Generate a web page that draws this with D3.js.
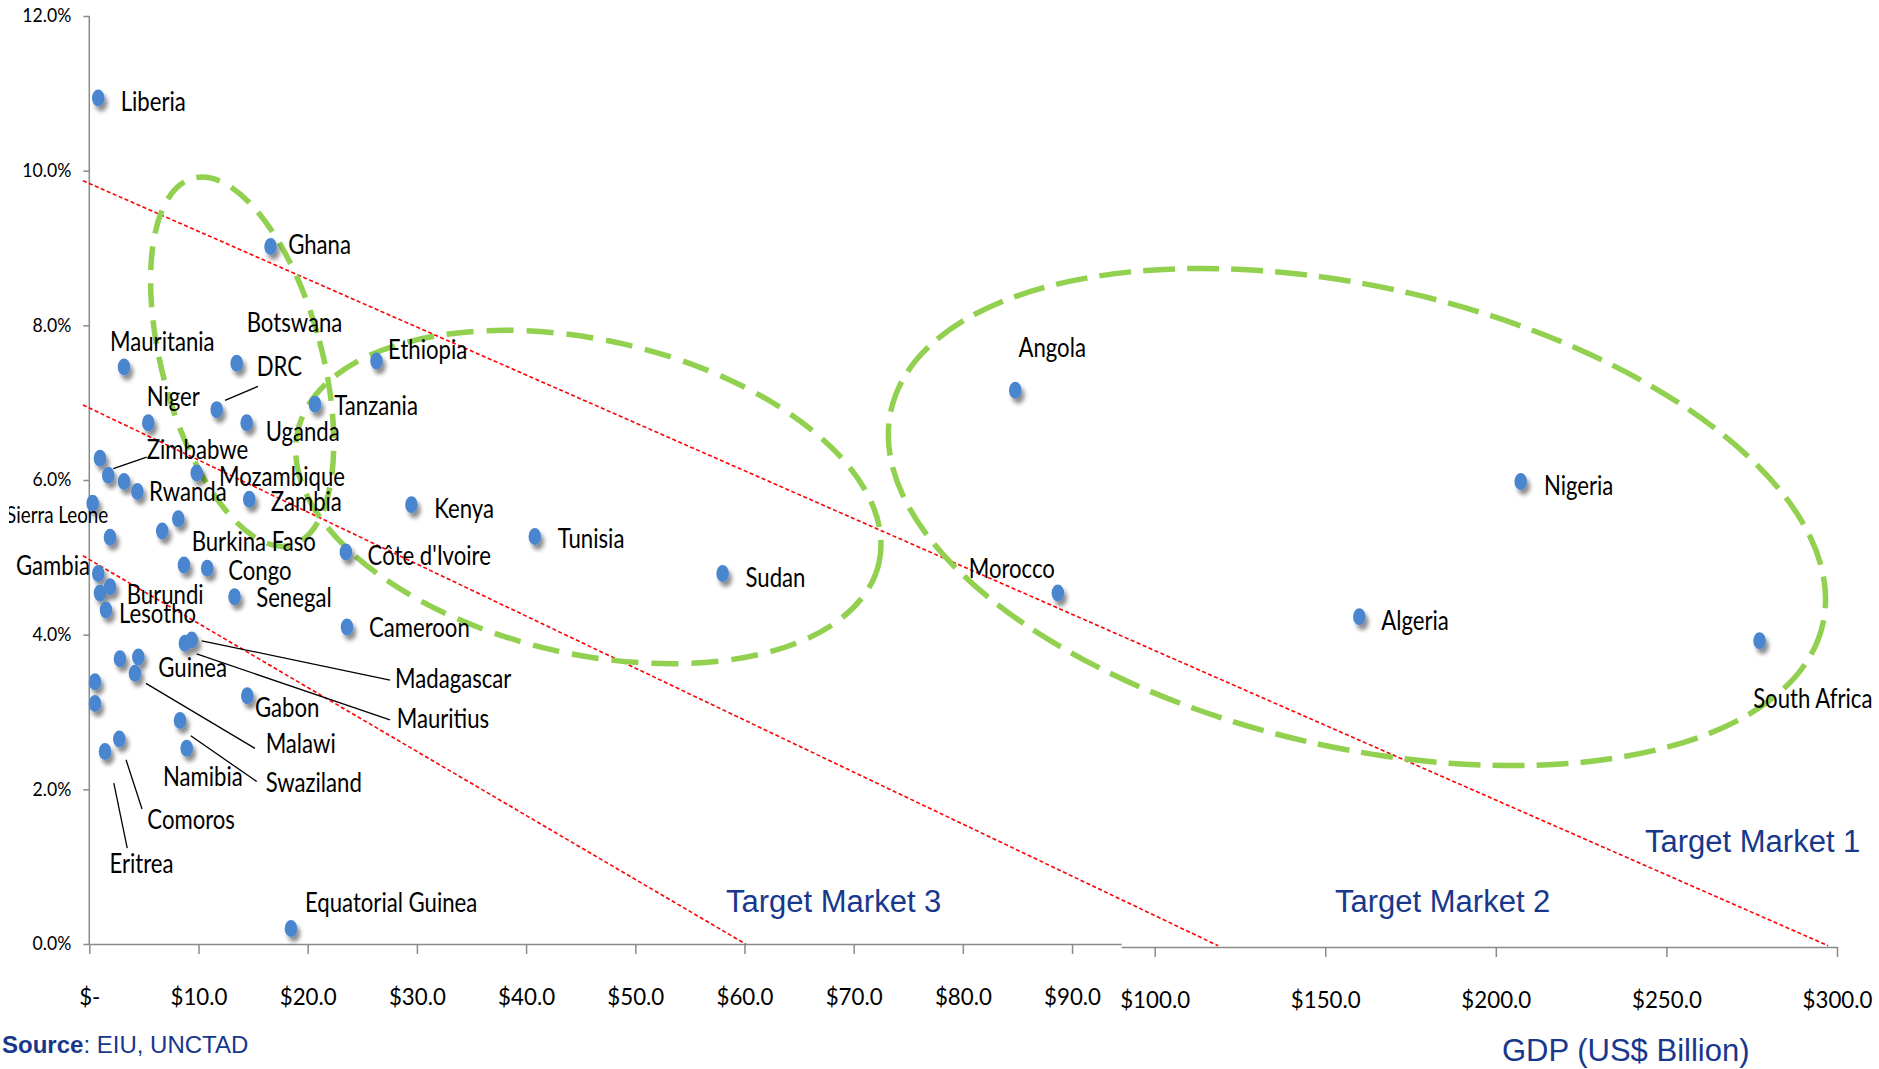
<!DOCTYPE html>
<html>
<head>
<meta charset="utf-8">
<script src="https://cdn.jsdelivr.net/npm/d3@7/dist/d3.min.js"></script>
<style>
  html, body { margin: 0; padding: 0; background: #ffffff; }
  svg { display: block; }
</style>
</head>
<body>
<svg id="chart" width="1879" height="1069"></svg>
<script>
// ---------------- DATA ----------------
const countries = ["Liberia","Ghana","Mauritania","Botswana","Ethiopia","DRC","Niger","Uganda","Tanzania","",
  "Zimbabwe","","Rwanda","Mozambique","Zambia","Kenya","Sierra Leone","","","",
  "Côte d'Ivoire","Tunisia","Sudan","Burkina Faso","Congo","Gambia","Burundi","","Lesotho","Senegal",
  "Cameroon","Madagascar","Mauritius","","Guinea","Malawi","","","Gabon","Swaziland",
  "Namibia","Comoros","Eritrea","Equatorial Guinea","Angola","Morocco","Nigeria","Algeria","South Africa"];
// GDP, US$ billion
const gdp = [0.82,16.6,3.18,13.5,26.3,11.67,5.40,14.41,20.67,0.98,
  1.74,3.18,4.40,9.84,14.65,29.5,0.31,8.15,6.68,1.90,
  23.5,40.8,58.0,8.67,10.8,0.82,1.90,0.98,1.53,13.3,
  23.6,9.38,8.76,2.81,4.49,4.18,0.52,0.52,14.47,8.31,
  8.92,2.75,1.44,18.47,84.8,88.7,207.3,160.0,277.3];
// real GDP growth, %
const growth = [10.94,9.02,7.46,7.51,7.54,6.91,6.74,6.74,6.98,6.28,
  6.06,5.98,5.85,6.09,5.75,5.68,5.70,5.50,5.34,5.26,
  5.07,5.27,4.79,4.90,4.86,4.79,4.62,4.54,4.32,4.49,
  4.10,3.93,3.89,3.69,3.71,3.50,3.39,3.11,3.21,2.89,
  2.53,2.65,2.49,0.20,7.16,4.54,6.02,4.27,3.96];

const yTicks = [0, 2, 4, 6, 8, 10, 12];
const xTicksLeft = [0, 10, 20, 30, 40, 50, 60, 70, 80, 90];
const xTicksRight = [100, 150, 200, 250, 300];

// target-market boundary lines, [gdp, growth] start and end
const boundaryStart = [[-0.58, 9.87], [-0.58, 6.97], [-0.58, 5.02]];
const boundaryEnd   = [[297.4, 0], [118.6, 0], [60.1, 0]];
const marketNames = ["Target Market 1", "Target Market 2", "Target Market 3"];

// highlighted groups, centre in [gdp, growth]
const groupCentres = [[14.0, 7.53], [45.7, 5.78], [159.3, 5.56]];

// ---------------- LAYOUT (not data) ----------------
const W = 1879, H = 1069;
const labelLayout = {
  "Liberia":[22.4,13], "Ghana":[17.6,7.3], "Mauritania":[-14,-16], "Botswana":[10,-31],
  "Ethiopia":[11.6,-1.7], "DRC":[40,-33.6], "Niger":[-1.6,-16.7], "Uganda":[19,18.3],
  "Tanzania":[19.3,11], "Zimbabwe":[38.4,-16.7], "Rwanda":[11.7,9], "Mozambique":[22.3,12.7],
  "Zambia":[21.4,11.7], "Kenya":[22.7,13.3], "Sierra Leone":[15.6,19.4,"end",22.5],
  "Côte d'Ivoire":[21.7,13.3], "Tunisia":[22.9,11.6], "Sudan":[22.9,13.4],
  "Burkina Faso":[7.7,-14.3], "Congo":[21,11.7], "Gambia":[-8.3,1.7,"end"],
  "Burundi":[16.7,17.3], "Lesotho":[13,13.3], "Senegal":[21.7,10], "Cameroon":[22,10],
  "Madagascar":[203.3,48.3], "Mauritius":[211.7,85], "Guinea":[20,20.4], "Malawi":[130.7,79.4],
  "Gabon":[7.7,21.3], "Swaziland":[85.6,71], "Namibia":[-23.7,37.7], "Comoros":[28,90],
  "Eritrea":[4.4,121.6], "Equatorial Guinea":[14,-16.6], "Angola":[3.2,-33.3],
  "Morocco":[-89.2,-15], "Nigeria":[23.2,13.3], "Algeria":[21.9,13.3], "South Africa":[-6.4,67.6]
};
const leaderLayout = {
  "DRC":[[8.3,-9.3],[41.3,-23.3]],
  "Zimbabwe":[[5,-6.7],[38.4,-18.3]],
  "Madagascar":[[10,0.7],[198.3,40]],
  "Mauritius":[[11.7,10.7],[205,76.7]],
  "Malawi":[[11,10],[120,75]],
  "Swaziland":[[10.7,15.3],[76.7,61]],
  "Comoros":[[6.7,20.7],[22.7,70]],
  "Eritrea":[[8.8,31.6],[22.2,96.6]]
};
const groupShapes = [ {rx:80, ry:190, rot:-15, dash:"24 13"},
                      {rx:298, ry:157, rot:12.8, dash:"27 13"},
                      {rx:478, ry:230, rot:13, dash:"32 12"} ];
const marketLabelPos = [[1645, 852], [1335, 912], [726, 912]];

const LABEL_FONT = "Lato, 'Open Sans', 'Noto Sans', sans-serif";
const SANS = "'Liberation Sans', Arial, sans-serif";
const BLUE_TEXT = "#17388c";

// ---------------- SCALES ----------------
const BREAK = 94.5;
const xL = d3.scaleLinear().domain([0, BREAK]).range([89.3, 1121.2]);
const xR = d3.scaleLinear().domain([90.2, 300]).range([1121.2, 1837]);
const yL = d3.scaleLinear().domain([0, 12]).range([944, 16]);
const yR = d3.scaleLinear().domain([0, 12]).range([947, 19]);
const xAny = v => (v <= BREAK ? xL(v) : xR(v));
const yAny = (v, xv) => (xv <= BREAK ? yL(v) : yR(v));

const svg = d3.select("#chart");
svg.append("rect").attr("width", W).attr("height", H).attr("fill", "#fff");

// measure text to derive horizontal condensing factors (the source font is condensed)
function measure(str, family, size) {
  const t = svg.append("text").style("font-family", family).style("font-size", size + "px").text(str);
  const w = t.node().getComputedTextLength();
  t.remove();
  return w;
}
const LABEL_SIZE = 26.5;
const kLabel = 126 / measure("Mozambique", LABEL_FONT, LABEL_SIZE);
const kY = 49 / measure("12.0%", LABEL_FONT, 18.6);
const kX = 57 / measure("$10.0", LABEL_FONT, 24);

const defs = svg.append("defs");
const f = defs.append("filter").attr("id", "shadow")
  .attr("x", "-100%").attr("y", "-100%").attr("width", "300%").attr("height", "300%");
f.append("feDropShadow").attr("dx", 3).attr("dy", 5).attr("stdDeviation", 2.2)
  .attr("flood-color", "#000").attr("flood-opacity", 0.45);
defs.append("clipPath").attr("id", "clipL").append("rect")
  .attr("x", 9).attr("y", 0).attr("width", W).attr("height", H);

// ---------------- AXES ----------------
const axisColor = "#8a8a8a";
function styleAxis(g, fs, k) {
  g.selectAll("path.domain").attr("stroke", axisColor).attr("stroke-width", 1.5);
  g.selectAll(".tick line").attr("stroke", axisColor).attr("stroke-width", 1.5);
  g.selectAll(".tick text").attr("fill", "#000").style("font-family", LABEL_FONT)
    .style("font-size", fs + "px").attr("transform", `scale(${k},1)`);
}
const yAxis = svg.append("g").attr("transform", `translate(${xL(0)},0)`)
  .call(d3.axisLeft(yL).tickValues(yTicks).tickFormat(d => d.toFixed(1) + "%")
    .tickSize(6).tickSizeOuter(0).tickPadding(12));
yAxis.select("path.domain").attr("d", `M0,${yL(0)}V${yL(12)}`);
styleAxis(yAxis, 18.6, kY);
yAxis.selectAll(".tick text").attr("x", -18 / kY);

const xAxisL = svg.append("g").attr("transform", `translate(0,${yL(0)})`)
  .call(d3.axisBottom(xL).tickValues(xTicksLeft)
    .tickFormat(d => d === 0 ? "$-" : "$" + d.toFixed(1))
    .tickSize(10).tickSizeOuter(0).tickPadding(34));
styleAxis(xAxisL, 24, kX);

const xAxisR = svg.append("g").attr("transform", `translate(0,${yR(0)})`)
  .call(d3.axisBottom(xR).tickValues(xTicksRight)
    .tickFormat(d => "$" + d.toFixed(1))
    .tickSize(10).tickSizeOuter(0).tickPadding(34));
styleAxis(xAxisR, 24, kX);

// ---------------- BOUNDARY LINES ----------------
svg.append("g").selectAll("line").data(boundaryStart).join("line")
  .attr("x1", d => xAny(d[0])).attr("y1", d => yAny(d[1], d[0]))
  .attr("x2", (d, i) => xAny(boundaryEnd[i][0]))
  .attr("y2", (d, i) => yAny(boundaryEnd[i][1], boundaryEnd[i][0]) + (boundaryEnd[i][0] > BREAK ? -1.3 : 0))
  .attr("stroke", "#ff0000").attr("stroke-width", 1.6).attr("stroke-dasharray", "4 2.5");

// ---------------- GROUP ELLIPSES ----------------
svg.append("g").selectAll("ellipse").data(groupCentres).join("ellipse")
  .attr("cx", 0).attr("cy", 0)
  .attr("rx", (d, i) => groupShapes[i].rx).attr("ry", (d, i) => groupShapes[i].ry)
  .attr("transform", (d, i) => `translate(${xAny(d[0])},${yAny(d[1], d[0])}) rotate(${groupShapes[i].rot})`)
  .attr("fill", "none").attr("stroke", "#92d050").attr("stroke-width", 5.5)
  .attr("stroke-dasharray", (d, i) => groupShapes[i].dash);

// ---------------- POINTS ----------------
const pts = countries.map((c, i) => ({ name: c, x: xAny(gdp[i]), y: yAny(growth[i], gdp[i]) }));

svg.append("g").attr("filter", "url(#shadow)").selectAll("ellipse").data(pts).join("ellipse")
  .attr("cx", d => d.x).attr("cy", d => d.y).attr("rx", 6.3).attr("ry", 8.5)
  .attr("fill", "#4a86cf");

// leader lines
svg.append("g").selectAll("line").data(pts.filter(d => leaderLayout[d.name])).join("line")
  .attr("x1", d => d.x + leaderLayout[d.name][0][0]).attr("y1", d => d.y + leaderLayout[d.name][0][1])
  .attr("x2", d => d.x + leaderLayout[d.name][1][0]).attr("y2", d => d.y + leaderLayout[d.name][1][1])
  .attr("stroke", "#000").attr("stroke-width", 1.3);

// labels
svg.append("g").attr("clip-path", "url(#clipL)").selectAll("text")
  .data(pts.filter(d => d.name && labelLayout[d.name])).join("text")
  .attr("transform", d => `translate(${d.x + labelLayout[d.name][0]},${d.y + labelLayout[d.name][1]}) scale(${kLabel},1)`)
  .attr("text-anchor", d => labelLayout[d.name][2] || "start")
  .style("font-family", LABEL_FONT)
  .style("font-size", d => (labelLayout[d.name][3] || LABEL_SIZE) + "px")
  .attr("fill", "#000")
  .text(d => d.name);

// ---------------- TEXTS ----------------
svg.append("g").selectAll("text").data(marketNames).join("text")
  .attr("x", (d, i) => marketLabelPos[i][0]).attr("y", (d, i) => marketLabelPos[i][1])
  .style("font-family", SANS).style("font-size", "31px").attr("fill", BLUE_TEXT)
  .text(d => d);

svg.append("text").attr("x", 1502).attr("y", 1061)
  .style("font-family", SANS).style("font-size", "31px").attr("fill", BLUE_TEXT)
  .text("GDP (US$ Billion)");

const src = svg.append("text").attr("x", 2).attr("y", 1053)
  .style("font-family", SANS).style("font-size", "24px").attr("fill", BLUE_TEXT);
src.append("tspan").style("font-weight", "bold").text("Source");
src.append("tspan").text(": EIU, UNCTAD");
</script>
</body>
</html>
